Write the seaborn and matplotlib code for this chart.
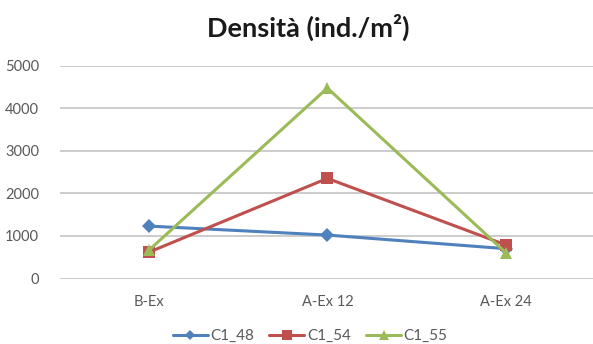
import matplotlib
matplotlib.use("Agg")
import matplotlib.pyplot as plt
import seaborn as sns
import pandas as pd

categories = ["B-Ex", "A-Ex 12", "A-Ex 24"]
c1_48 = [1230, 1020, 700]
c1_54 = [620, 2350, 790]
c1_55 = [670, 4470, 610]
series_names = ["C1_48", "C1_54", "C1_55"]
yticks = [0, 1000, 2000, 3000, 4000, 5000]

rows = []
for name, vals in zip(series_names, [c1_48, c1_54, c1_55]):
    for i, (c, v) in enumerate(zip(categories, vals)):
        rows.append({"cat": c, "pos": i, "value": v, "series": name})
df = pd.DataFrame(rows)

sns.set_theme(style="white")
plt.rcParams["font.family"] = ["Lato", "DejaVu Sans"]

fig = plt.figure(figsize=(5.93, 3.44), dpi=100)
ax = fig.add_axes([60 / 593, (344 - 278.5) / 344, 533 / 593, 213 / 344])

palette = {"C1_48": "#4F81BD", "C1_54": "#C0504D", "C1_55": "#9BBB59"}
markers = {"C1_48": "D", "C1_54": "s", "C1_55": "^"}
sizes = {"C1_48": 7, "C1_54": 8.5, "C1_55": 9}

sns.lineplot(data=df, x="pos", y="value", hue="series", style="series",
             palette=palette, markers=markers, dashes=False, linewidth=2.2,
             markersize=8, markeredgewidth=0, ax=ax, legend=False, zorder=3)
for line, name in zip(ax.get_lines(), series_names):
    line.set_markersize(sizes[name])

ax.set_xlim(-0.5, 2.49)
ax.set_ylim(0, 5000)
ax.set_xticks(range(len(categories)))
ax.set_xticklabels(categories)
ax.set_yticks(yticks)
ax.set_yticklabels([str(t) for t in yticks])
ax.set_xlabel("")
ax.set_ylabel("")
for s in ax.spines.values():
    s.set_visible(False)
ax.yaxis.grid(True, color="#C8C8C8", linewidth=1.3)
ax.xaxis.grid(False)
ax.set_axisbelow(True)
ax.tick_params(axis="both", length=0, labelsize=10.5, labelcolor="#595959")
ax.tick_params(axis="y", pad=15)
ax.tick_params(axis="x", pad=12)

fig.text(308 / 593, 1 - 27 / 344, "Densità (ind./m²)", ha="center", va="center",
         fontsize=19.5, fontweight="bold", color="#1a1a1a")

from matplotlib.lines import Line2D
handles = [Line2D([], [], color=palette[n], marker=markers[n], markersize=sizes[n] * 0.8,
                  linewidth=2.2, markeredgewidth=0) for n in series_names]
fig.legend(handles, series_names, loc="center", bbox_to_anchor=(310 / 593, 1 - 336 / 344),
           ncol=3, frameon=False, fontsize=11, handlelength=2.3, handletextpad=0.15,
           columnspacing=1.0, labelcolor="#595959", borderaxespad=0, borderpad=0)

fig.savefig("out.png", dpi=100)
